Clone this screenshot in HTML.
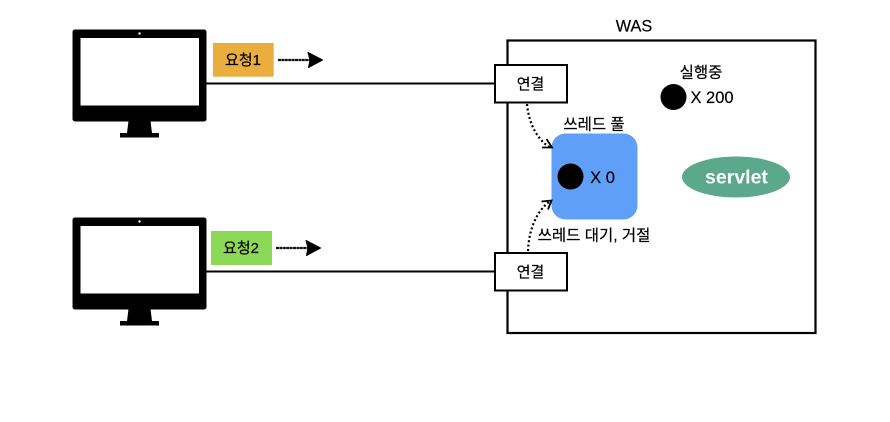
<!DOCTYPE html>
<html><head><meta charset="utf-8"><style>
html,body{margin:0;padding:0;background:#fff}
svg{display:block}
text{font-family:"Liberation Sans","Noto Sans CJK KR",sans-serif;fill:#000;text-anchor:middle;stroke:#000;stroke-width:.2}
</style></head><body>
<svg width="890" height="422" viewBox="0 0 890 422" xmlns="http://www.w3.org/2000/svg">
<rect width="890" height="422" fill="#fff"/>
<!-- WAS -->
<rect x="507.5" y="40.5" width="308" height="292.5" fill="#fff" stroke="#000" stroke-width="2.2"/>
<text x="634" y="31.5" font-size="16.3">WAS</text>
<!-- lines -->
<line x1="206" y1="83.5" x2="495" y2="83.5" stroke="#000" stroke-width="2"/>
<line x1="206" y1="271.5" x2="495" y2="271.5" stroke="#000" stroke-width="2"/>
<!-- monitors -->
<g>
<rect x="72.5" y="29.5" width="134" height="92" rx="2.5" fill="#000"/>
<rect x="80.5" y="38" width="118.5" height="67.5" fill="#fff"/>
<circle cx="139.5" cy="33.5" r="1.2" fill="#fff"/>
<path d="M128.5 121H150.5L152 133H159V137.5H120V133H127Z" fill="#000"/>
</g>
<g>
<rect x="72.5" y="217.5" width="134" height="92" rx="2.5" fill="#000"/>
<rect x="80.5" y="226" width="118.5" height="67.5" fill="#fff"/>
<circle cx="139.5" cy="221.5" r="1.2" fill="#fff"/>
<path d="M128.5 309H150.5L152 321H159V325.5H120V321H127Z" fill="#000"/>
</g>
<!-- request labels -->
<rect x="213" y="43" width="60.7" height="33.7" fill="#EAAE3E"/>
<text x="243" y="65" font-size="15">요청1</text>
<rect x="211" y="231" width="61" height="34" fill="#8CD857"/>
<text x="241" y="253" font-size="15">요청2</text>
<!-- request arrows -->
<line x1="278" y1="60" x2="310" y2="60" stroke="#111" stroke-width="2.2" stroke-dasharray="3 0.4"/>
<path d="M308 52.5L322.5 60L308.5 67.5L310 60Z" fill="#000" stroke="#000" stroke-width="1" stroke-linejoin="round"/>
<line x1="276" y1="248" x2="308" y2="248" stroke="#111" stroke-width="2.2" stroke-dasharray="3 0.4"/>
<path d="M306 240.5L320.5 248L306.5 255.5L308 248Z" fill="#000" stroke="#000" stroke-width="1" stroke-linejoin="round"/>
<!-- blue pool -->
<rect x="551.5" y="133.5" width="86" height="86" rx="14" fill="#5F9FF8"/>
<circle cx="570.5" cy="176.5" r="13" fill="#000"/>
<text x="602.5" y="183" font-size="16.5">X 0</text>
<text x="594" y="129.5" font-size="15.5">쓰레드 풀</text>
<text x="594" y="240.5" font-size="15.5">쓰레드 대기, 거절</text>
<!-- running -->
<text x="701" y="77.5" font-size="15.5">실행중</text>
<circle cx="673.5" cy="97" r="13" fill="#000"/>
<text x="712" y="103" font-size="16.5">X 200</text>
<!-- servlet -->
<ellipse cx="736" cy="177" rx="54" ry="20.5" fill="#5BA88D"/>
<text x="736.5" y="183.5" font-size="19.5" font-weight="bold" style="fill:#fff;stroke:none">servlet</text>
<!-- connection boxes -->
<rect x="495" y="65" width="72" height="37.5" fill="#fff" stroke="#000" stroke-width="2"/>
<text x="530.5" y="89" font-size="15">연결</text>
<rect x="495" y="253" width="72" height="37.5" fill="#fff" stroke="#000" stroke-width="2"/>
<text x="530.5" y="277" font-size="15">연결</text>
<!-- dotted curves -->
<path d="M527 104C529 125 538 140 550 147.5" fill="none" stroke="#000" stroke-width="2.2" stroke-dasharray="2 2.4"/>
<path d="M542 147.5L552 147.5L546.5 139" fill="none" stroke="#000" stroke-width="1.8"/>
<path d="M528 251C529 228 537 211 550 201" fill="none" stroke="#000" stroke-width="2.2" stroke-dasharray="2 2.4"/>
<path d="M541.5 201.5L551.5 200.5L548 209.5" fill="none" stroke="#000" stroke-width="1.8"/>
</svg>
</body></html>
